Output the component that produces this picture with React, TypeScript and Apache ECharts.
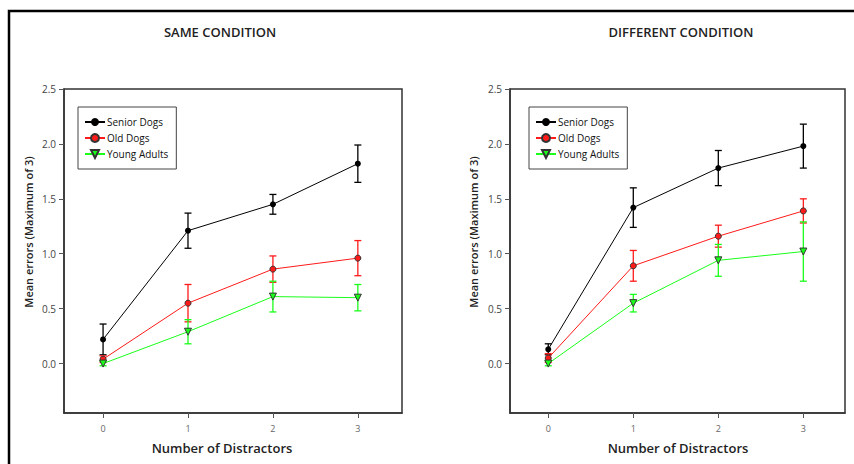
import React, { useEffect, useRef } from "react";
import * as echarts from "echarts";

const categories = [0, 1, 2, 3];
const seriesNames = ["Senior Dogs", "Old Dogs", "Young Adults"];
const yTicks = [0, 0.5, 1.0, 1.5, 2.0, 2.5];
const panelTitles = ["SAME CONDITION", "DIFFERENT CONDITION"];
const xTitle = "Number of Distractors";
const yTitle = "Mean errors (Maximum of 3)";

const sameSenior = [0.22, 1.21, 1.45, 1.82];
const sameSeniorErr = [0.14, 0.16, 0.09, 0.17];
const sameOld = [0.04, 0.55, 0.86, 0.96];
const sameOldErr = [0.03, 0.17, 0.12, 0.16];
const sameYoung = [0.0, 0.29, 0.61, 0.6];
const sameYoungErr = [0.02, 0.11, 0.14, 0.12];

const diffSenior = [0.13, 1.42, 1.78, 1.98];
const diffSeniorErr = [0.05, 0.18, 0.16, 0.2];
const diffOld = [0.05, 0.89, 1.16, 1.39];
const diffOldErr = [0.04, 0.14, 0.1, 0.11];
const diffYoung = [0.0, 0.55, 0.94, 1.02];
const diffYoungErr = [0.02, 0.08, 0.145, 0.27];

const colors = ["#000000", "#ff1a1a", "#1aff1a"];
const symbols = ["circle", "circle", "triangle"];
const FONT = "'Open Sans', 'DejaVu Sans', sans-serif";

export default function App() {
  const ref = useRef<HTMLDivElement>(null);
  useEffect(() => {
    const chart = echarts.init(ref.current!, null, { renderer: "svg" });

    const panels = [
      { vals: [sameSenior, sameOld, sameYoung], errs: [sameSeniorErr, sameOldErr, sameYoungErr] },
      { vals: [diffSenior, diffOld, diffYoung], errs: [diffSeniorErr, diffOldErr, diffYoungErr] },
    ];

    const series: any[] = [];
    panels.forEach((p, gi) => {
      p.vals.forEach((vals, si) => {
        const errs = p.errs[si];
        series.push({
          type: "custom",
          xAxisIndex: gi,
          yAxisIndex: gi,
          silent: true,
          z: 1,
          data: categories.map((c, i) => [c, vals[i] - errs[i], vals[i] + errs[i]]),
          renderItem: (params: any, api: any) => {
            const x = api.value(0);
            const lo = api.coord([x, api.value(1)]);
            const hi = api.coord([x, api.value(2)]);
            const w = 3.5;
            const st = { stroke: colors[si], lineWidth: 1.3 };
            return {
              type: "group",
              children: [
                { type: "line", shape: { x1: lo[0], y1: lo[1], x2: hi[0], y2: hi[1] }, style: st },
                { type: "line", shape: { x1: lo[0] - w, y1: lo[1], x2: lo[0] + w, y2: lo[1] }, style: st },
                { type: "line", shape: { x1: hi[0] - w, y1: hi[1], x2: hi[0] + w, y2: hi[1] }, style: st },
              ],
            };
          },
        });
        series.push({
          type: "line",
          name: seriesNames[si],
          xAxisIndex: gi,
          yAxisIndex: gi,
          z: 2,
          data: categories.map((c, i) => [c, vals[i]]),
          symbol: symbols[si],
          symbolRotate: si === 2 ? 180 : 0,
          symbolSize: si === 2 ? 7 : 6,
          lineStyle: { color: colors[si], width: 1 },
          itemStyle: { color: colors[si], borderColor: si === 0 ? "#000" : "#333", borderWidth: si === 0 ? 0 : 1 },
        });
      });
    });

    const grids = [
      { left: 64, top: 89, width: 338, height: 324 },
      { left: 510, top: 89, width: 335, height: 324 },
    ];
    const xRanges = [
      [-0.46, 3.52],
      [-0.45, 3.49],
    ];
    const titleX = [220, 681];
    const xTitleX = [222, 678];
    const yTitleX = [28, 473];

    const legendCommon = {
      orient: "vertical",
      data: seriesNames,
      itemWidth: 20,
      itemHeight: 10,
      itemGap: 6,
      borderColor: "#444",
      borderWidth: 1,
      padding: [10, 8, 10, 6],
      backgroundColor: "#fff",
      selectedMode: false,
      textStyle: { fontFamily: FONT, fontSize: 10, color: "#111", padding: [0, 0, 0, -3] },
    };

    const textEl = (text: string, x: number, y: number, size: number, rot = 0) => ({
      type: "text",
      x,
      y,
      rotation: rot,
      silent: true,
      style: {
        text,
        textAlign: "center",
        textVerticalAlign: "middle",
        fontFamily: FONT,
        fontSize: size,
        fontWeight: 600,
        fill: "#222",
      },
    });

    chart.setOption({
      animation: false,
      backgroundColor: "#fff",
      grid: grids.map((g) => ({ ...g, show: true, borderColor: "#333", borderWidth: 1.5, containLabel: false })),
      xAxis: grids.map((g, i) => ({
        type: "value",
        gridIndex: i,
        min: xRanges[i][0],
        max: xRanges[i][1],
        axisLine: { show: true, onZero: false, lineStyle: { color: "#333", width: 1.5 } },
        axisTick: { show: true, length: 5, customValues: categories, lineStyle: { color: "#555" } },
        axisLabel: { customValues: categories, margin: 11, fontFamily: FONT, fontSize: 9, color: "#666" },
        splitLine: { show: false },
      })),
      yAxis: grids.map((g, i) => ({
        type: "value",
        gridIndex: i,
        min: -0.45,
        max: 2.5,
        axisLine: { show: true, onZero: false, lineStyle: { color: "#333", width: 1.5 } },
        axisTick: { show: true, length: 5, customValues: yTicks, lineStyle: { color: "#555" } },
        axisLabel: {
          customValues: yTicks,
          margin: 8,
          fontFamily: FONT,
          fontSize: 10,
          color: "#444",
          formatter: (v: number) => v.toFixed(1),
        },
        splitLine: { show: false },
      })),
      legend: [
        { ...legendCommon, left: 78, top: 107 },
        { ...legendCommon, left: 529, top: 107 },
      ],
      graphic: [
        {
          type: "rect",
          shape: { x: 9, y: 11, width: 900, height: 500 },
          style: { fill: "none", stroke: "#000", lineWidth: 2.5 },
          silent: true,
        },
        ...panelTitles.map((t, i) => textEl(t, titleX[i], 32, 13)),
        ...xTitleX.map((x) => textEl(xTitle, x, 448, 13)),
        ...yTitleX.map((x) => textEl(yTitle, x, 232, 11, Math.PI / 2)),
      ],
      series,
    });

    return () => chart.dispose();
  }, []);

  return <div ref={ref} style={{ position: "fixed", left: 0, top: 0, width: 854, height: 464 }} />;
}
